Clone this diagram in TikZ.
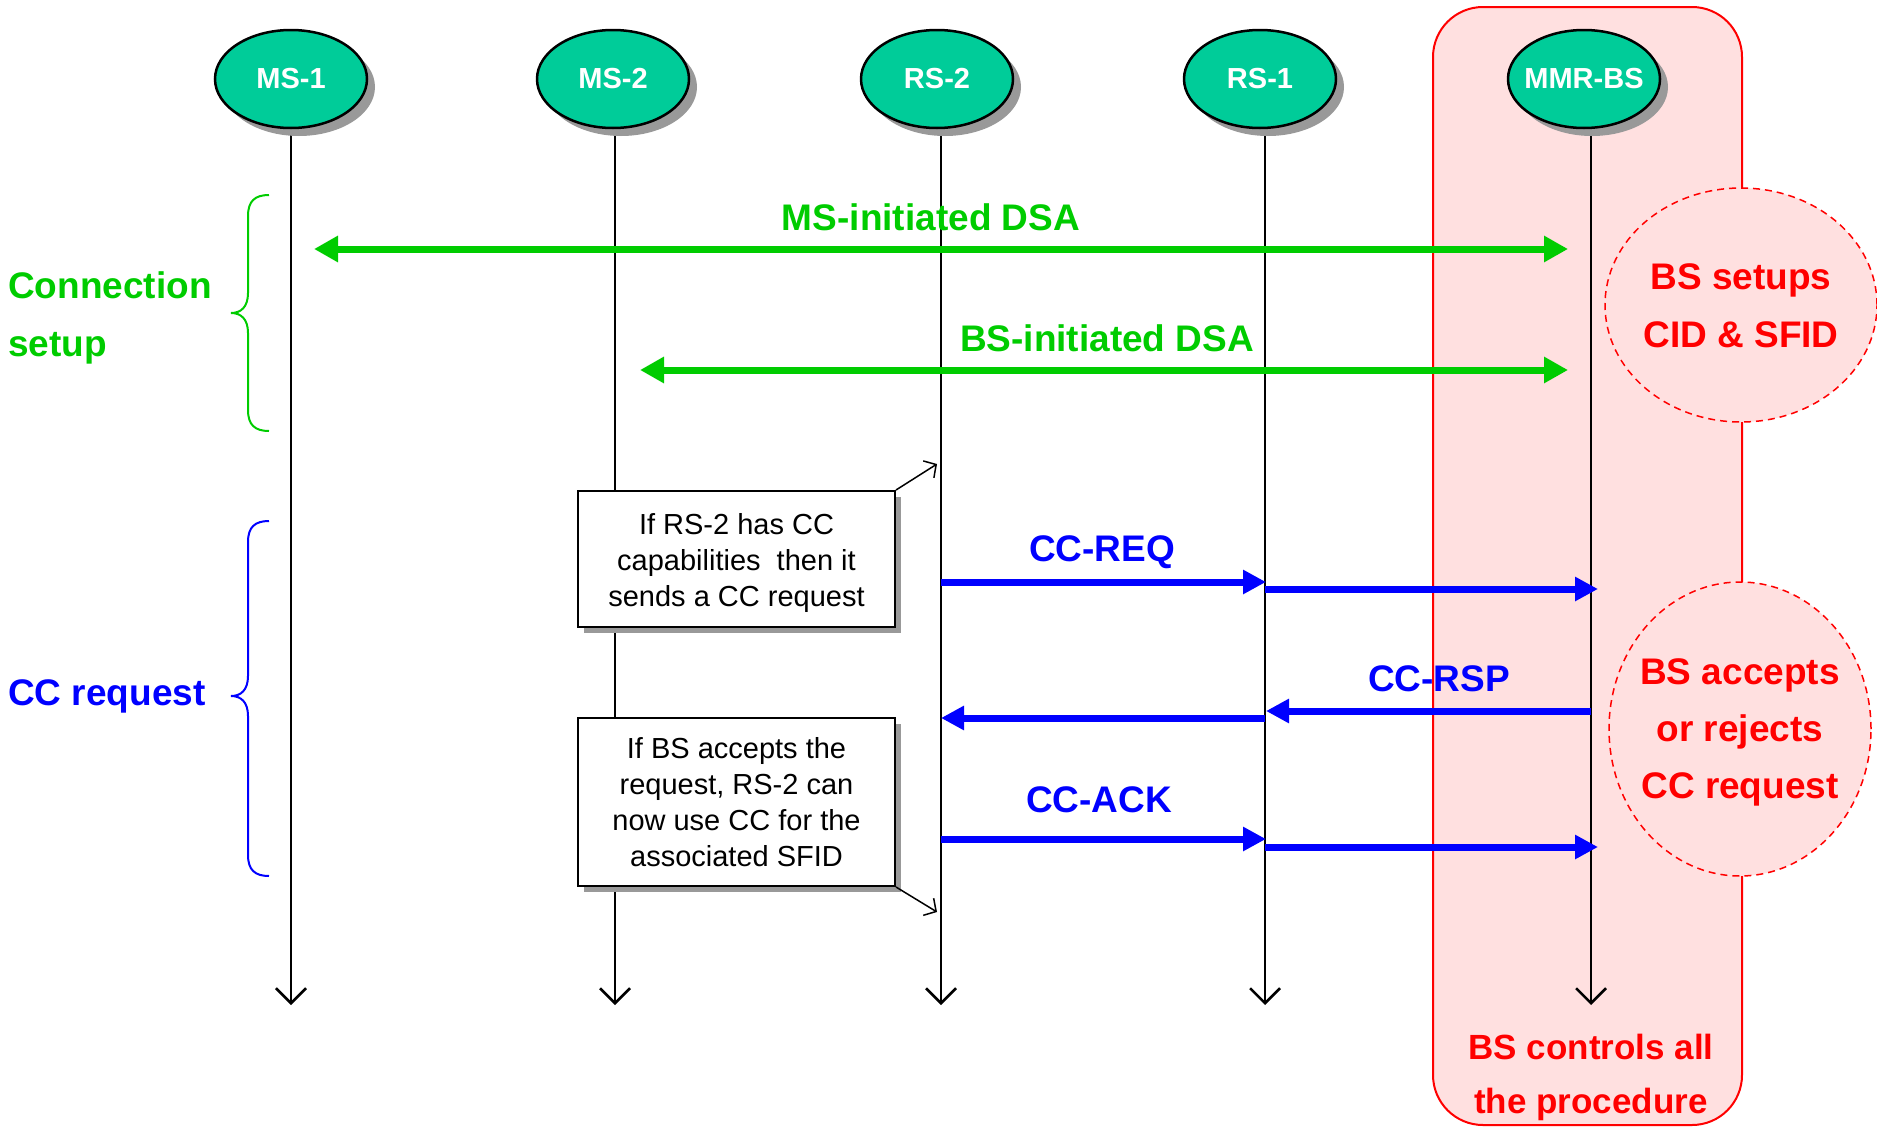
\documentclass[tikz,border=0pt]{standalone}
\usepackage{fontspec}
\setmainfont{Liberation Sans}
\usetikzlibrary{arrows.meta,shadows,shapes.geometric}
\definecolor{tealA}{RGB}{0,204,153}
\definecolor{grn}{RGB}{0,204,0}
\definecolor{blu}{RGB}{0,0,255}
\definecolor{pinkbg}{RGB}{255,224,224}
\definecolor{shd}{RGB}{153,153,153}
\begin{document}
\begin{tikzpicture}[x=1pt,y=-1pt,
  actor/.style={ellipse, draw=black, line width=2.5pt, fill=tealA, minimum width=152pt, minimum height=98pt, inner sep=0pt, text=white, font=\fontsize{29}{34}\selectfont\bfseries, drop shadow={shadow xshift=8pt, shadow yshift=-8pt, fill=shd, opacity=1}},
  notebox/.style={draw=black, line width=2pt, fill=white, minimum width=317pt, inner sep=0pt, align=center, font=\fontsize{29}{36}\selectfont, drop shadow={shadow xshift=6pt, shadow yshift=-6pt, fill=shd, opacity=1}},
  lifeline/.style={draw=black, line width=2.5pt, -{Straight Barb[length=15pt,width=30pt]}},
  garrow/.style={draw=grn, line width=7pt, {Triangle[length=24pt,width=25pt]}-{Triangle[length=24pt,width=25pt]}},
  barrow/.style={draw=blu, line width=7pt, -{Triangle[length=23pt,width=23pt]}},
  pointer/.style={draw=black, line width=1.5pt, -{Straight Barb[length=9pt,width=20pt]}},
  glabel/.style={text=grn, font=\fontsize{37}{58}\selectfont\bfseries, inner sep=0pt},
  blabel/.style={text=blu, font=\fontsize{37}{58}\selectfont\bfseries, inner sep=0pt},
  rlabel/.style={text=red, font=\fontsize{37}{58}\selectfont\bfseries, inner sep=0pt, align=center},
  bubble/.style={ellipse, draw=red, line width=1.5pt, dash pattern=on 7pt off 5pt, fill=pinkbg, inner sep=0pt},
  bracepath/.style={line width=2pt}
]
\useasboundingbox (0,0) rectangle (1877,1127);

% background region for the BS
\node[draw=red, line width=2pt, fill=pinkbg, rounded corners=50pt, minimum width=309pt, minimum height=1118pt, inner sep=0pt] (bsregion) at (1587.5,566) {};
\node[bubble, minimum width=272pt, minimum height=234pt] (bub1) at (1741,305) {};
\node[bubble, minimum width=262pt, minimum height=294pt] (bub2) at (1740,729) {};
\node[rlabel] (bub1txt) at (1741,306) {BS setups\\CID \& SFID};
\node[rlabel, font=\fontsize{37}{57}\selectfont\bfseries] (bub2txt) at (1740,732) {BS accepts\\or rejects\\CC request};
\node[rlabel, font=\fontsize{35}{54}\selectfont\bfseries] (ctrltxt) at (1591,1077) {BS controls all\\the procedure};

% lifelines
\coordinate (t1) at (291,125);  \coordinate (b1) at (291,1005);
\coordinate (t2) at (615,125);  \coordinate (b2) at (615,1005);
\coordinate (t3) at (941,125);  \coordinate (b3) at (941,1005);
\coordinate (t4) at (1265,125); \coordinate (b4) at (1265,1005);
\coordinate (t5) at (1591,125); \coordinate (b5) at (1591,1005);
\draw[lifeline] (t1) -- (b1);
\draw[lifeline] (t2) -- (b2);
\draw[lifeline] (t3) -- (b3);
\draw[lifeline] (t4) -- (b4);
\draw[lifeline] (t5) -- (b5);

% actors
\node[actor] (ms1) at (291,79) {\makebox[0pt]{MS-1}};
\node[actor] (ms2) at (613,79) {\makebox[0pt]{MS-2}};
\node[actor] (rs2) at (937,79) {\makebox[0pt]{RS-2}};
\node[actor] (rs1) at (1260,79) {\makebox[0pt]{RS-1}};
\node[actor] (bs) at (1584,79) {\makebox[0pt]{MMR-BS}};

% notes
\node[notebox, minimum height=136pt] (note1) at (736.5,559) {\parbox[c][136pt][c]{317pt}{\vspace*{8pt}\centering If RS-2 has CC\\capabilities~ then it\\sends a CC request}};
\node[notebox, minimum height=168pt] (note2) at (736.5,802) {If BS accepts the\\request, RS-2 can\\now use CC for the\\associated SFID};
\coordinate (p1) at (937,464);
\coordinate (p2) at (937,912);
\draw[pointer] (note1.north east) -- (p1);
\draw[pointer] (note2.south east) -- (p2);

% green DSA arrows
\coordinate (msL) at (314,249);  \coordinate (msR) at (1568,249);
\coordinate (bsL) at (640,370);  \coordinate (bsR) at (1568,370);
\draw[garrow] (msL) -- (msR);
\draw[garrow] (bsL) -- (bsR);
\node[glabel] (msdsa) at (931,217) {MS-initiated DSA};
\node[glabel] (bsdsa) at (1107,338) {BS-initiated DSA};

% blue CC arrows
\coordinate (req1a) at (941,582);  \coordinate (req1b) at (1266,582);
\coordinate (req2a) at (1265,589); \coordinate (req2b) at (1598,589);
\coordinate (rsp1a) at (1591,711); \coordinate (rsp1b) at (1266,711);
\coordinate (rsp2a) at (1265,718); \coordinate (rsp2b) at (941,718);
\coordinate (ack1a) at (941,839);  \coordinate (ack1b) at (1266,839);
\coordinate (ack2a) at (1265,847); \coordinate (ack2b) at (1598,847);
\draw[barrow] (req1a) -- (req1b);
\draw[barrow] (req2a) -- (req2b);
\draw[barrow] (rsp1a) -- (rsp1b);
\draw[barrow] (rsp2a) -- (rsp2b);
\draw[barrow] (ack1a) -- (ack1b);
\draw[barrow] (ack2a) -- (ack2b);
\node[blabel] (reqlbl) at (1102,552) {CC-REQ};
\node[blabel] (rsplbl) at (1439,679) {CC-RSP};
\node[blabel] (acklbl) at (1099,800) {CC-ACK};

% phase labels and braces
\node[glabel, anchor=west, align=left] (connlbl) at (8,318) {Connection\\setup};
\node[blabel, anchor=west] (cclbl) at (8,696) {CC request};
\draw[bracepath, draw=grn] (269,195) .. controls (255,195) and (248,201) .. (248,216) -- (248,293)
  .. controls (248,307) and (241,313) .. (231,313)
  .. controls (241,313) and (248,319) .. (248,333) -- (248,410)
  .. controls (248,425) and (255,431) .. (269,431);
\draw[bracepath, draw=blu] (269,521) .. controls (255,521) and (248,527) .. (248,542) -- (248,676)
  .. controls (248,690) and (241,696) .. (231,696)
  .. controls (241,696) and (248,702) .. (248,716) -- (248,855)
  .. controls (248,870) and (255,876) .. (269,876);
\end{tikzpicture}
\end{document}
